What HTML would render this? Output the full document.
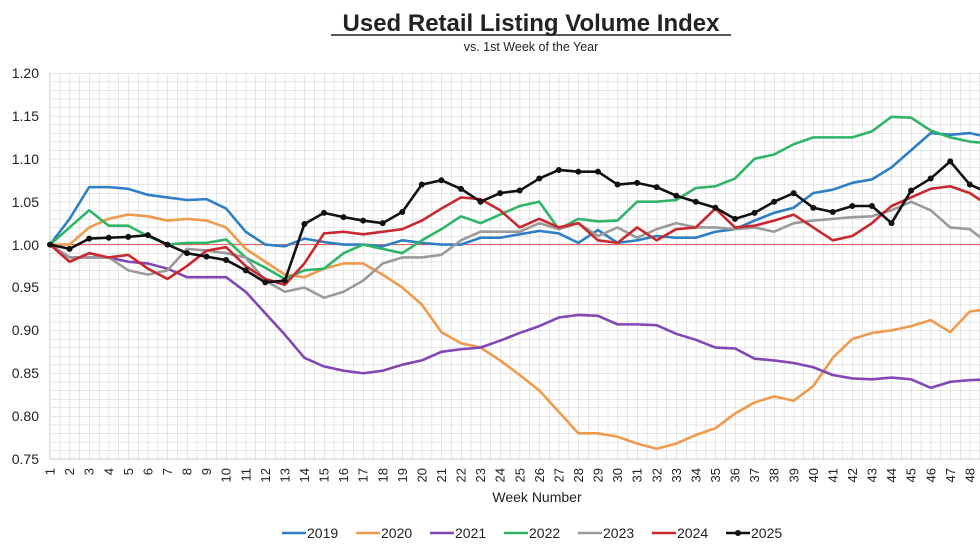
<!DOCTYPE html>
<html><head><meta charset="utf-8"><style>
html,body{margin:0;padding:0;background:#fff;}
svg{display:block;font-family:"Liberation Sans",Arial,sans-serif;}
</style></head><body>
<svg width="980" height="552" viewBox="0 0 980 552" xmlns="http://www.w3.org/2000/svg">
<defs>
<pattern id="g" x="50" y="73" width="9.785" height="8.578" patternUnits="userSpaceOnUse">
<path d="M0,0 V8.578 M0,0 H9.785" stroke="#cccccc" stroke-width="1" fill="none"/>
</pattern>
</defs>
<text x="531" y="31" text-anchor="middle" font-size="24" font-weight="bold" fill="#222">Used Retail Listing Volume Index</text>
<line x1="331" y1="35" x2="731" y2="35" stroke="#222" stroke-width="1.5"/>
<text x="531" y="51" text-anchor="middle" font-size="12.5" fill="#222">vs. 1st Week of the Year</text>
<rect x="50" y="73" width="930" height="386" fill="url(#g)"/>
<line x1="50" y1="459" x2="980" y2="459" stroke="#cccccc"/>
<line x1="50" y1="73" x2="50" y2="459" stroke="#cccccc"/>
<g font-size="14" fill="#222" text-anchor="end">
<text x="39" y="78">1.20</text><text x="39" y="121">1.15</text><text x="39" y="164">1.10</text><text x="39" y="207">1.05</text><text x="39" y="250">1.00</text><text x="39" y="292">0.95</text><text x="39" y="335">0.90</text><text x="39" y="378">0.85</text><text x="39" y="421">0.80</text><text x="39" y="464">0.75</text>
</g>
<line x1="50" y1="244.6" x2="980" y2="244.6" stroke="#e05050" stroke-width="1"/>
<g transform="matrix(19.57 0 0 -857.8 30.43 1102.4)" fill="none" stroke-width="2.6" stroke-linejoin="round">
<polyline vector-effect="non-scaling-stroke" stroke="#2e7fc3" points="1,1 2,1.03 3,1.067 4,1.067 5,1.065 6,1.058 7,1.055 8,1.052 9,1.053 10,1.042 11,1.015 12,1 13,0.998 14,1.007 15,1.003 16,1 17,1 18,0.998 19,1.005 20,1.002 21,1 22,1 23,1.008 24,1.008 25,1.012 26,1.016 27,1.013 28,1.002 29,1.017 30,1.002 31,1.005 32,1.01 33,1.008 34,1.008 35,1.015 36,1.018 37,1.028 38,1.037 39,1.043 40,1.06 41,1.064 42,1.072 43,1.076 44,1.09 45,1.11 46,1.13 47,1.128 48,1.13 49,1.125"/>
<polyline vector-effect="non-scaling-stroke" stroke="#ef9a4c" points="1,1 2,1 3,1.02 4,1.03 5,1.035 6,1.033 7,1.028 8,1.03 9,1.028 10,1.02 11,0.995 12,0.98 13,0.965 14,0.962 15,0.972 16,0.978 17,0.978 18,0.965 19,0.95 20,0.93 21,0.898 22,0.885 23,0.88 24,0.865 25,0.848 26,0.83 27,0.805 28,0.78 29,0.78 30,0.776 31,0.768 32,0.762 33,0.768 34,0.778 35,0.786 36,0.803 37,0.816 38,0.823 39,0.818 40,0.835 41,0.868 42,0.89 43,0.897 44,0.9 45,0.905 46,0.912 47,0.898 48,0.922 49,0.925"/>
<polyline vector-effect="non-scaling-stroke" stroke="#8347b5" points="1,1 2,0.985 3,0.985 4,0.985 5,0.98 6,0.978 7,0.972 8,0.962 9,0.962 10,0.962 11,0.945 12,0.92 13,0.895 14,0.868 15,0.858 16,0.853 17,0.85 18,0.853 19,0.86 20,0.865 21,0.875 22,0.878 23,0.88 24,0.888 25,0.897 26,0.905 27,0.915 28,0.918 29,0.917 30,0.907 31,0.907 32,0.906 33,0.896 34,0.889 35,0.88 36,0.879 37,0.867 38,0.865 39,0.862 40,0.857 41,0.848 42,0.844 43,0.843 44,0.845 45,0.843 46,0.833 47,0.84 48,0.842 49,0.843"/>
<polyline vector-effect="non-scaling-stroke" stroke="#2fb565" points="1,1 2,1.02 3,1.04 4,1.022 5,1.022 6,1.01 7,1 8,1.002 9,1.002 10,1.006 11,0.985 12,0.973 13,0.96 14,0.97 15,0.972 16,0.99 17,1 18,0.995 19,0.99 20,1.005 21,1.018 22,1.033 23,1.025 24,1.035 25,1.045 26,1.05 27,1.018 28,1.03 29,1.027 30,1.028 31,1.05 32,1.05 33,1.052 34,1.066 35,1.068 36,1.077 37,1.1 38,1.105 39,1.117 40,1.125 41,1.125 42,1.125 43,1.132 44,1.149 45,1.148 46,1.133 47,1.125 48,1.12 49,1.118"/>
<polyline vector-effect="non-scaling-stroke" stroke="#9a9a9a" points="1,1 2,0.985 3,0.985 4,0.985 5,0.97 6,0.965 7,0.97 8,0.995 9,0.993 10,0.99 11,0.985 12,0.958 13,0.945 14,0.95 15,0.938 16,0.945 17,0.958 18,0.978 19,0.985 20,0.985 21,0.988 22,1.005 23,1.015 24,1.015 25,1.015 26,1.025 27,1.018 28,1.025 29,1.01 30,1.02 31,1.008 32,1.018 33,1.025 34,1.02 35,1.02 36,1.018 37,1.02 38,1.015 39,1.025 40,1.028 41,1.03 42,1.032 43,1.033 44,1.04 45,1.05 46,1.04 47,1.02 48,1.018 49,1"/>
<polyline vector-effect="non-scaling-stroke" stroke="#c8282e" points="1,1 2,0.98 3,0.99 4,0.985 5,0.988 6,0.972 7,0.96 8,0.975 9,0.993 10,0.997 11,0.975 12,0.96 13,0.953 14,0.978 15,1.013 16,1.015 17,1.012 18,1.015 19,1.018 20,1.028 21,1.042 22,1.055 23,1.053 24,1.04 25,1.02 26,1.03 27,1.02 28,1.025 29,1.005 30,1.002 31,1.02 32,1.005 33,1.018 34,1.02 35,1.042 36,1.02 37,1.022 38,1.028 39,1.035 40,1.02 41,1.005 42,1.01 43,1.025 44,1.045 45,1.055 46,1.065 47,1.068 48,1.06 49,1.045"/>
<polyline vector-effect="non-scaling-stroke" stroke="#111" points="1,1 2,0.995 3,1.007 4,1.008 5,1.009 6,1.011 7,1 8,0.99 9,0.986 10,0.982 11,0.97 12,0.956 13,0.958 14,1.024 15,1.037 16,1.032 17,1.028 18,1.025 19,1.038 20,1.07 21,1.075 22,1.065 23,1.05 24,1.06 25,1.063 26,1.077 27,1.087 28,1.085 29,1.085 30,1.07 31,1.072 32,1.067 33,1.057 34,1.05 35,1.043 36,1.03 37,1.037 38,1.05 39,1.06 40,1.043 41,1.038 42,1.045 43,1.045 44,1.025 45,1.063 46,1.077 47,1.097 48,1.07 49,1.06"/>
<path vector-effect="non-scaling-stroke" stroke="#111" stroke-width="6" stroke-linecap="round" d="M1,1h0M2,0.995h0M3,1.007h0M4,1.008h0M5,1.009h0M6,1.011h0M7,1h0M8,0.99h0M9,0.986h0M10,0.982h0M11,0.97h0M12,0.956h0M13,0.958h0M14,1.024h0M15,1.037h0M16,1.032h0M17,1.028h0M18,1.025h0M19,1.038h0M20,1.07h0M21,1.075h0M22,1.065h0M23,1.05h0M24,1.06h0M25,1.063h0M26,1.077h0M27,1.087h0M28,1.085h0M29,1.085h0M30,1.07h0M31,1.072h0M32,1.067h0M33,1.057h0M34,1.05h0M35,1.043h0M36,1.03h0M37,1.037h0M38,1.05h0M39,1.06h0M40,1.043h0M41,1.038h0M42,1.045h0M43,1.045h0M44,1.025h0M45,1.063h0M46,1.077h0M47,1.097h0M48,1.07h0M49,1.06h0"/>
</g>
<g font-size="13" fill="#222" text-anchor="end">
<text transform="translate(50,468) rotate(-90)" dy="0.35em">1</text>
<text transform="translate(69.6,468) rotate(-90)" dy="0.35em">2</text>
<text transform="translate(89.1,468) rotate(-90)" dy="0.35em">3</text>
<text transform="translate(108.7,468) rotate(-90)" dy="0.35em">4</text>
<text transform="translate(128.3,468) rotate(-90)" dy="0.35em">5</text>
<text transform="translate(147.9,468) rotate(-90)" dy="0.35em">6</text>
<text transform="translate(167.4,468) rotate(-90)" dy="0.35em">7</text>
<text transform="translate(187,468) rotate(-90)" dy="0.35em">8</text>
<text transform="translate(206.6,468) rotate(-90)" dy="0.35em">9</text>
<text transform="translate(226.1,468) rotate(-90)" dy="0.35em">10</text>
<text transform="translate(245.7,468) rotate(-90)" dy="0.35em">11</text>
<text transform="translate(265.3,468) rotate(-90)" dy="0.35em">12</text>
<text transform="translate(284.8,468) rotate(-90)" dy="0.35em">13</text>
<text transform="translate(304.4,468) rotate(-90)" dy="0.35em">14</text>
<text transform="translate(324,468) rotate(-90)" dy="0.35em">15</text>
<text transform="translate(343.6,468) rotate(-90)" dy="0.35em">16</text>
<text transform="translate(363.1,468) rotate(-90)" dy="0.35em">17</text>
<text transform="translate(382.7,468) rotate(-90)" dy="0.35em">18</text>
<text transform="translate(402.3,468) rotate(-90)" dy="0.35em">19</text>
<text transform="translate(421.8,468) rotate(-90)" dy="0.35em">20</text>
<text transform="translate(441.4,468) rotate(-90)" dy="0.35em">21</text>
<text transform="translate(461,468) rotate(-90)" dy="0.35em">22</text>
<text transform="translate(480.5,468) rotate(-90)" dy="0.35em">23</text>
<text transform="translate(500.1,468) rotate(-90)" dy="0.35em">24</text>
<text transform="translate(519.7,468) rotate(-90)" dy="0.35em">25</text>
<text transform="translate(539.3,468) rotate(-90)" dy="0.35em">26</text>
<text transform="translate(558.8,468) rotate(-90)" dy="0.35em">27</text>
<text transform="translate(578.4,468) rotate(-90)" dy="0.35em">28</text>
<text transform="translate(598,468) rotate(-90)" dy="0.35em">29</text>
<text transform="translate(617.5,468) rotate(-90)" dy="0.35em">30</text>
<text transform="translate(637.1,468) rotate(-90)" dy="0.35em">31</text>
<text transform="translate(656.7,468) rotate(-90)" dy="0.35em">32</text>
<text transform="translate(676.2,468) rotate(-90)" dy="0.35em">33</text>
<text transform="translate(695.8,468) rotate(-90)" dy="0.35em">34</text>
<text transform="translate(715.4,468) rotate(-90)" dy="0.35em">35</text>
<text transform="translate(735,468) rotate(-90)" dy="0.35em">36</text>
<text transform="translate(754.5,468) rotate(-90)" dy="0.35em">37</text>
<text transform="translate(774.1,468) rotate(-90)" dy="0.35em">38</text>
<text transform="translate(793.7,468) rotate(-90)" dy="0.35em">39</text>
<text transform="translate(813.2,468) rotate(-90)" dy="0.35em">40</text>
<text transform="translate(832.8,468) rotate(-90)" dy="0.35em">41</text>
<text transform="translate(852.4,468) rotate(-90)" dy="0.35em">42</text>
<text transform="translate(871.9,468) rotate(-90)" dy="0.35em">43</text>
<text transform="translate(891.5,468) rotate(-90)" dy="0.35em">44</text>
<text transform="translate(911.1,468) rotate(-90)" dy="0.35em">45</text>
<text transform="translate(930.7,468) rotate(-90)" dy="0.35em">46</text>
<text transform="translate(950.2,468) rotate(-90)" dy="0.35em">47</text>
<text transform="translate(969.8,468) rotate(-90)" dy="0.35em">48</text>
</g>
<text x="537" y="502" text-anchor="middle" font-size="14" fill="#222">Week Number</text>
<g font-size="14" fill="#222" stroke-width="2.6">
<line x1="282" y1="533" x2="306" y2="533" stroke="#2e7fc3"/><text x="307" y="538">2019</text>
<line x1="356" y1="533" x2="380" y2="533" stroke="#ef9a4c"/><text x="381" y="538">2020</text>
<line x1="430" y1="533" x2="454" y2="533" stroke="#8347b5"/><text x="455" y="538">2021</text>
<line x1="504" y1="533" x2="528" y2="533" stroke="#2fb565"/><text x="529" y="538">2022</text>
<line x1="578" y1="533" x2="602" y2="533" stroke="#9a9a9a"/><text x="603" y="538">2023</text>
<line x1="652" y1="533" x2="676" y2="533" stroke="#c8282e"/><text x="677" y="538">2024</text>
<line x1="726" y1="533" x2="750" y2="533" stroke="#111"/><circle cx="738" cy="533" r="3" fill="#111"/><text x="751" y="538">2025</text>
</g>
</svg>
</body></html>
